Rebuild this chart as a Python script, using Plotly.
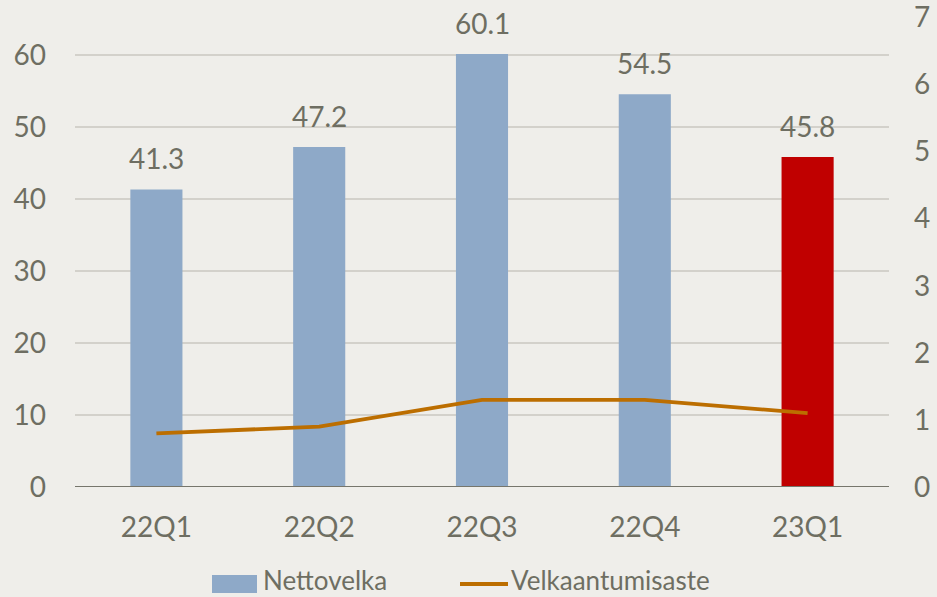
import plotly.graph_objects as go

categories = ["22Q1", "22Q2", "22Q3", "22Q4", "23Q1"]
nettovelka = [41.3, 47.2, 60.1, 54.5, 45.8]
velkaantumisaste = [0.8, 0.9, 1.3, 1.3, 1.1]
bar_colors = ["#8EA9C8", "#8EA9C8", "#8EA9C8", "#8EA9C8", "#C00000"]
legend_labels = ["Nettovelka", "Velkaantumisaste"]

bg = "#EFEEEA"
txt = "#6E6E62"
font = "Lato"
blue = "#8EA9C8"
orange = "#BC6E00"

W, H = 937, 597
L, R, T, B = 75, 48, 0, 110
pw, ph = W - L - R, H - T - B


def px(x):
    return (x - L) / pw


def py(y):
    return (H - B - y) / ph


fig = go.Figure()
fig.add_trace(go.Bar(
    x=categories, y=nettovelka, name=legend_labels[0],
    marker=dict(color=bar_colors, line=dict(width=0)),
    width=0.32, showlegend=False,
))
fig.add_trace(go.Scatter(
    x=categories, y=velkaantumisaste, name=legend_labels[1],
    mode="lines", line=dict(color=orange, width=3.8),
    yaxis="y2", showlegend=False,
))

for c, v in zip(categories, nettovelka):
    fig.add_annotation(x=c, y=v, text=f"{v:.1f}", showarrow=False,
                       yanchor="bottom", yshift=12,
                       font=dict(size=28, color=txt, family=font))

# manual legend
fig.add_shape(type="rect", xref="paper", yref="paper",
              x0=px(212), x1=px(257), y0=py(593), y1=py(575),
              fillcolor=blue, line=dict(width=0))
fig.add_annotation(xref="paper", yref="paper", x=px(261), y=py(580),
                   text=legend_labels[0], showarrow=False, xanchor="left",
                   yanchor="middle", font=dict(size=26, color=txt, family=font))
fig.add_shape(type="line", xref="paper", yref="paper",
              x0=px(460), x1=px(508), y0=py(584), y1=py(584),
              line=dict(color=orange, width=3.8))
fig.add_annotation(xref="paper", yref="paper", x=px(509), y=py(580),
                   text=legend_labels[1], showarrow=False, xanchor="left",
                   yanchor="middle", font=dict(size=26, color=txt, family=font))

fig.update_layout(
    width=W, height=H,
    paper_bgcolor=bg, plot_bgcolor=bg,
    margin=dict(l=L, r=R, t=T, b=B, autoexpand=False),
    font=dict(family=font, color=txt, size=28),
    showlegend=False,
    xaxis=dict(showgrid=False, showline=False, ticks="", tickfont=dict(size=28),
               zeroline=False, ticklabelstandoff=21),
    yaxis=dict(range=[0, 67.6], tickvals=[0, 10, 20, 30, 40, 50, 60],
               showgrid=True, gridcolor="#D3D1CB", gridwidth=1.5,
               zeroline=False, showline=False, ticks="", ticklabelstandoff=28,
               tickfont=dict(size=28), ticklabeloverflow="allow"),
    yaxis2=dict(range=[0, 7.26], tickvals=list(range(8)), overlaying="y", side="right",
                showgrid=False, zeroline=False, showline=False, ticks="",
                ticklabelstandoff=24, tickfont=dict(size=28),
                ticklabeloverflow="allow"),
)
fig.add_hline(y=0, line=dict(color="#76766C", width=2))

fig.write_html("out.html")
